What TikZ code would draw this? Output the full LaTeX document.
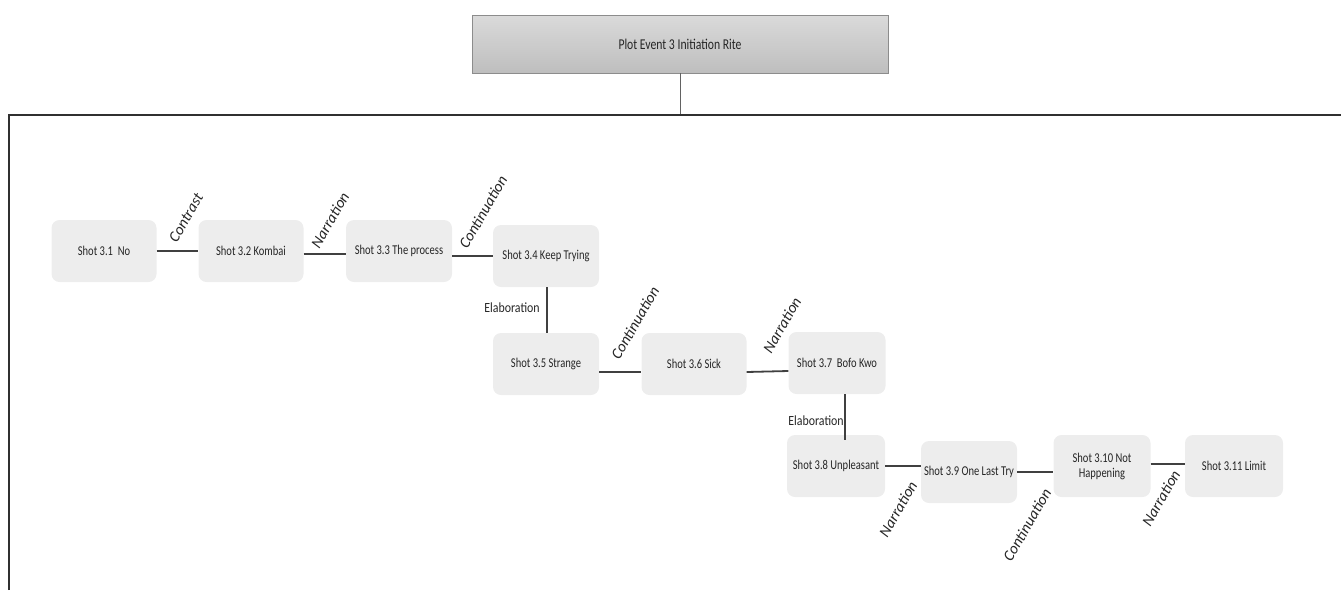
\documentclass[tikz,border=0pt]{standalone}
\usepackage{fontspec}
\setmainfont{Carlito}
\newfontfamily\shotfont[FakeStretch=0.78]{Carlito}
\newfontfamily\elabfont[FakeStretch=0.85]{Carlito}
\definecolor{nodefill}{HTML}{EDEDED}
\definecolor{txt}{HTML}{262626}
\definecolor{linec}{HTML}{404040}
\definecolor{framec}{HTML}{303030}
\definecolor{topa}{HTML}{DADADA}
\definecolor{topb}{HTML}{BEBEBE}
\definecolor{topborder}{HTML}{8C8C8C}
\tikzset{
  shotbox/.style={fill=nodefill, rounded corners=8pt, minimum height=62pt, inner sep=2pt,
    text=txt, font=\shotfont\fontsize{13.5}{15}\selectfont, align=center},
  conn/.style={draw=linec, line width=1.8pt},
  rellabel/.style={text=txt, font=\itshape\fontsize{15.5}{17}\selectfont, rotate=60, inner sep=0pt},
  elablabel/.style={text=txt, font=\elabfont\fontsize{14}{16}\selectfont, inner sep=0pt},
}
\begin{document}
\begin{tikzpicture}[x=1pt,y=-1pt]
\useasboundingbox (0,0) rectangle (1341,590);
% title box
\node[draw=topborder, line width=0.8pt, top color=topa, bottom color=topb,
  minimum width=416pt, minimum height=58pt, text=txt,
  font=\shotfont\fontsize{15}{17}\selectfont] (top) at (680,44) {Plot Event 3 Initiation Rite};
\coordinate (join) at (680,115);
\draw[draw=topborder!70!black, line width=0.9pt] (top.south) -- (join);
% frame
\draw[draw=framec, line width=2pt] (9,590) -- (9,115) -- (1341,115);
% shots
\node[shotbox, minimum width=105pt] (n1) at (104,251) {Shot 3.1\ \ No};
\node[shotbox, minimum width=105pt] (n2) at (251,251) {Shot 3.2 Kombai};
\node[shotbox, minimum width=106pt] (n3) at (399,251) {Shot 3.3 The process};
\node[shotbox, minimum width=106pt] (n4) at (546,256) {Shot 3.4 Keep Trying};
\node[shotbox, minimum width=106pt] (n5) at (546,364) {Shot 3.5 Strange};
\node[shotbox, minimum width=105pt] (n6) at (694,364) {Shot 3.6 Sick};
\node[shotbox, minimum width=97pt] (n7) at (837,363) {Shot 3.7\ \ Bofo Kwo};
\node[shotbox, minimum width=98pt] (n8) at (836,466) {Shot 3.8 Unpleasant};
\node[shotbox, minimum width=96pt] (n9) at (969,472) {Shot 3.9 One Last Try};
\node[shotbox, minimum width=97pt] (n10) at (1102,466) {Shot 3.10 Not\\Happening};
\node[shotbox, minimum width=98pt] (n11) at (1234,466) {Shot 3.11 Limit};
% connectors
\draw[conn] (n1.east) -- (n2.west);
\draw[conn] ([yshift=-3pt]n2.east) -- ([yshift=-3pt]n3.west);
\draw[conn] (n3.east |- n4.west) -- (n4.west);
\draw[conn] ([xshift=1pt]n4.south) -- ([xshift=1pt]n5.north);
\draw[conn] ([yshift=-8pt]n5.east) -- ([yshift=-8pt]n6.west);
\draw[conn] ([yshift=-8pt]n6.east) -- ([yshift=-8pt]n7.west);
\draw[conn] ([xshift=8pt]n7.south) -- ([xshift=9pt,yshift=-5pt]n8.north);
\draw[conn] (n8.east) -- (n9.west |- n8.east);
\draw[conn] (n9.east) -- (n10.west |- n9.east);
\draw[conn] ([yshift=2pt]n10.east) -- ([yshift=2pt]n11.west);
% labels
\node[rellabel] (l12) at (186,218) {Contrast};
\node[rellabel] (l23) at (330,220) {Narration};
\node[rellabel] (l34) at (483,212) {Continuation};
\node[elablabel] (l45) at (512,308) {Elaboration};
\node[rellabel] (l56) at (635,323) {Continuation};
\node[rellabel] (l67) at (782,325) {Narration};
\node[elablabel] (l78) at (816,421) {Elaboration};
\node[rellabel] (l89) at (898,509) {Narration};
\node[rellabel] (l910) at (1027,525) {Continuation};
\node[rellabel] (l1011) at (1161,498) {Narration};
\end{tikzpicture}
\end{document}
